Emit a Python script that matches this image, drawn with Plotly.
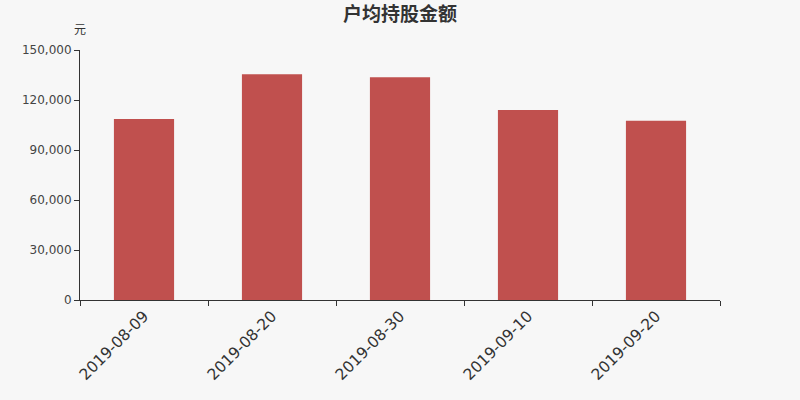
import plotly.graph_objects as go

dates = ["2019-08-09", "2019-08-20", "2019-08-30", "2019-09-10", "2019-09-20"]
avg_holding = [108600, 135500, 133600, 114000, 107500]
y_ticks = [0, 30000, 60000, 90000, 120000, 150000]
y_tick_text = ["0", "30,000", "60,000", "90,000", "120,000", "150,000"]

BG = "#f7f7f7"
AXIS = "#333333"
FONT = "DejaVu Sans, Noto Sans CJK SC, sans-serif"
CJK = "Noto Sans CJK SC, sans-serif"

fig = go.Figure(
    go.Bar(
        x=dates,
        y=avg_holding,
        width=0.47,
        marker=dict(color="#c0504e", line=dict(width=0)),
    )
)

fig.update_layout(
    width=800,
    height=400,
    paper_bgcolor=BG,
    plot_bgcolor=BG,
    margin=dict(l=80, r=80, t=50, b=100),
    showlegend=False,
    font=dict(family=FONT, color=AXIS),
    title=dict(
        text="<b>户均持股金额</b>",
        x=0.5,
        xanchor="center",
        y=0.965,
        yanchor="middle",
        font=dict(family=CJK, size=19, color=AXIS),
    ),
    xaxis=dict(
        type="category",
        tickson="boundaries",
        ticks="outside",
        ticklen=5,
        tickcolor=AXIS,
        showline=True,
        linecolor=AXIS,
        linewidth=1,
        showgrid=False,
        tickangle=-45,
        tickfont=dict(size=15.5, color=AXIS),
    ),
    yaxis=dict(
        range=[0, 150000],
        tickvals=y_ticks,
        ticktext=y_tick_text,
        ticks="outside",
        ticklen=5,
        tickcolor=AXIS,
        showline=True,
        linecolor=AXIS,
        linewidth=1,
        showgrid=False,
        zeroline=False,
        tickfont=dict(size=12, color="#444444"),
    ),
    bargap=0.53,
    annotations=[
        dict(
            text="元",
            xref="paper",
            yref="paper",
            x=0,
            y=1.086,
            xanchor="center",
            yanchor="middle",
            showarrow=False,
            font=dict(family=CJK, size=12, color=AXIS),
        )
    ],
)

# the page has a default body margin; drop it so the chart sits at 0,0
fig.write_html(
    "out.html",
    config={"displayModeBar": False},
    post_script="document.body.style.margin='0';",
)
